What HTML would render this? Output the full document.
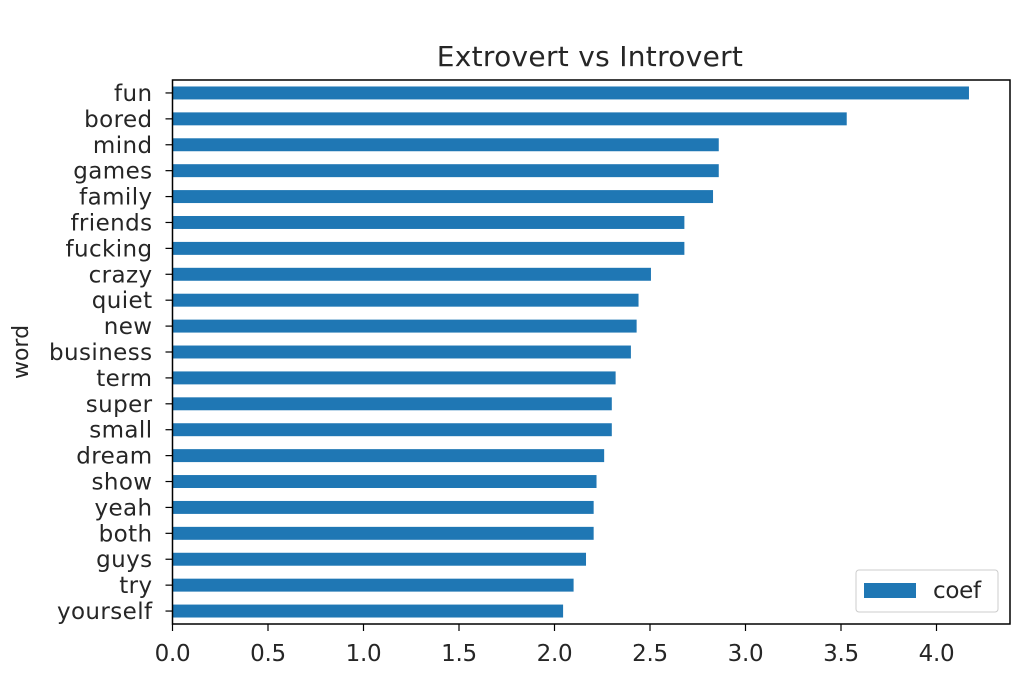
<!DOCTYPE html>
<html><head><meta charset="utf-8"><style>
body{margin:0;background:#fff;width:1019px;height:674px;overflow:hidden}
text{font-family:"DejaVu Sans","Liberation Sans",sans-serif;fill:#262626}
</style></head><body>
<svg id="chart" width="1019" height="674" xmlns="http://www.w3.org/2000/svg"></svg>
<script>
const categories=["fun","bored","mind","games","family","friends","fucking","crazy","quiet","new","business","term","super","small","dream","show","yeah","both","guys","try","yourself"];
const coefValues=[4.17,3.53,2.86,2.86,2.83,2.68,2.68,2.505,2.44,2.43,2.40,2.32,2.30,2.30,2.26,2.22,2.205,2.205,2.165,2.10,2.045];
const xTicks=[0,0.5,1.0,1.5,2.0,2.5,3.0,3.5,4.0];
const xTickLabels=["0.0","0.5","1.0","1.5","2.0","2.5","3.0","3.5","4.0"];
const svg=document.getElementById('chart');
const NS='http://www.w3.org/2000/svg';
const L=172.5,R=1010,T=80,B=624;
const xMax=(R-L)/191;
const xs=v=>L+v/xMax*(R-L);
const n=categories.length;
const step=(B-T)/n;
const ys=i=>T+step*(i+0.5);
function mk(tag,attrs,txt){const e=document.createElementNS(NS,tag);for(const k in attrs)e.setAttribute(k,attrs[k]);if(txt!==undefined)e.textContent=txt;svg.appendChild(e);return e;}
const title=mk('text',{x:590,y:66,'text-anchor':'middle','font-size':'28','letter-spacing':'0.3'},'Extrovert vs Introvert');


categories.forEach((c,i)=>{
  const y=ys(i);
  const bar=mk('rect',{x:L,y:y-step*0.25,width:xs(coefValues[i])-L,height:step*0.5,fill:'#1f77b4'});
  
  
  mk('line',{x1:L-7,x2:L,y1:y,y2:y,stroke:'#000','stroke-width':1.2});
  const lab=mk('text',{x:L-20,y:y+8,'text-anchor':'end','font-size':'23','letter-spacing':'0.4'},c);
  
  
});
xTicks.forEach((t,i)=>{
  const x=xs(t);
  mk('line',{x1:x,x2:x,y1:B,y2:B+7,stroke:'#000','stroke-width':1.2});
  const lab=mk('text',{x:x,y:B+37,'text-anchor':'middle','font-size':'23','letter-spacing':'-0.3'},xTickLabels[i]);
  
  
});
const frame=mk('rect',{x:L,y:T,width:R-L,height:B-T,fill:'none',stroke:'#000','stroke-width':1.5});


const yl=mk('text',{x:0,y:0,'text-anchor':'middle','font-size':'22','letter-spacing':'0',transform:'translate(28,'+((T+B)/2)+') rotate(-90)'},'word');


const lg=mk('rect',{x:856,y:570,width:142,height:42,rx:3,fill:'#fff',stroke:'#ccc','stroke-width':1});


const lp=mk('rect',{x:864,y:583,width:52,height:15,fill:'#1f77b4'});


const lt=mk('text',{x:933,y:598,'font-size':'23','letter-spacing':'-0.3'},'coef');


</script>
</body></html>
